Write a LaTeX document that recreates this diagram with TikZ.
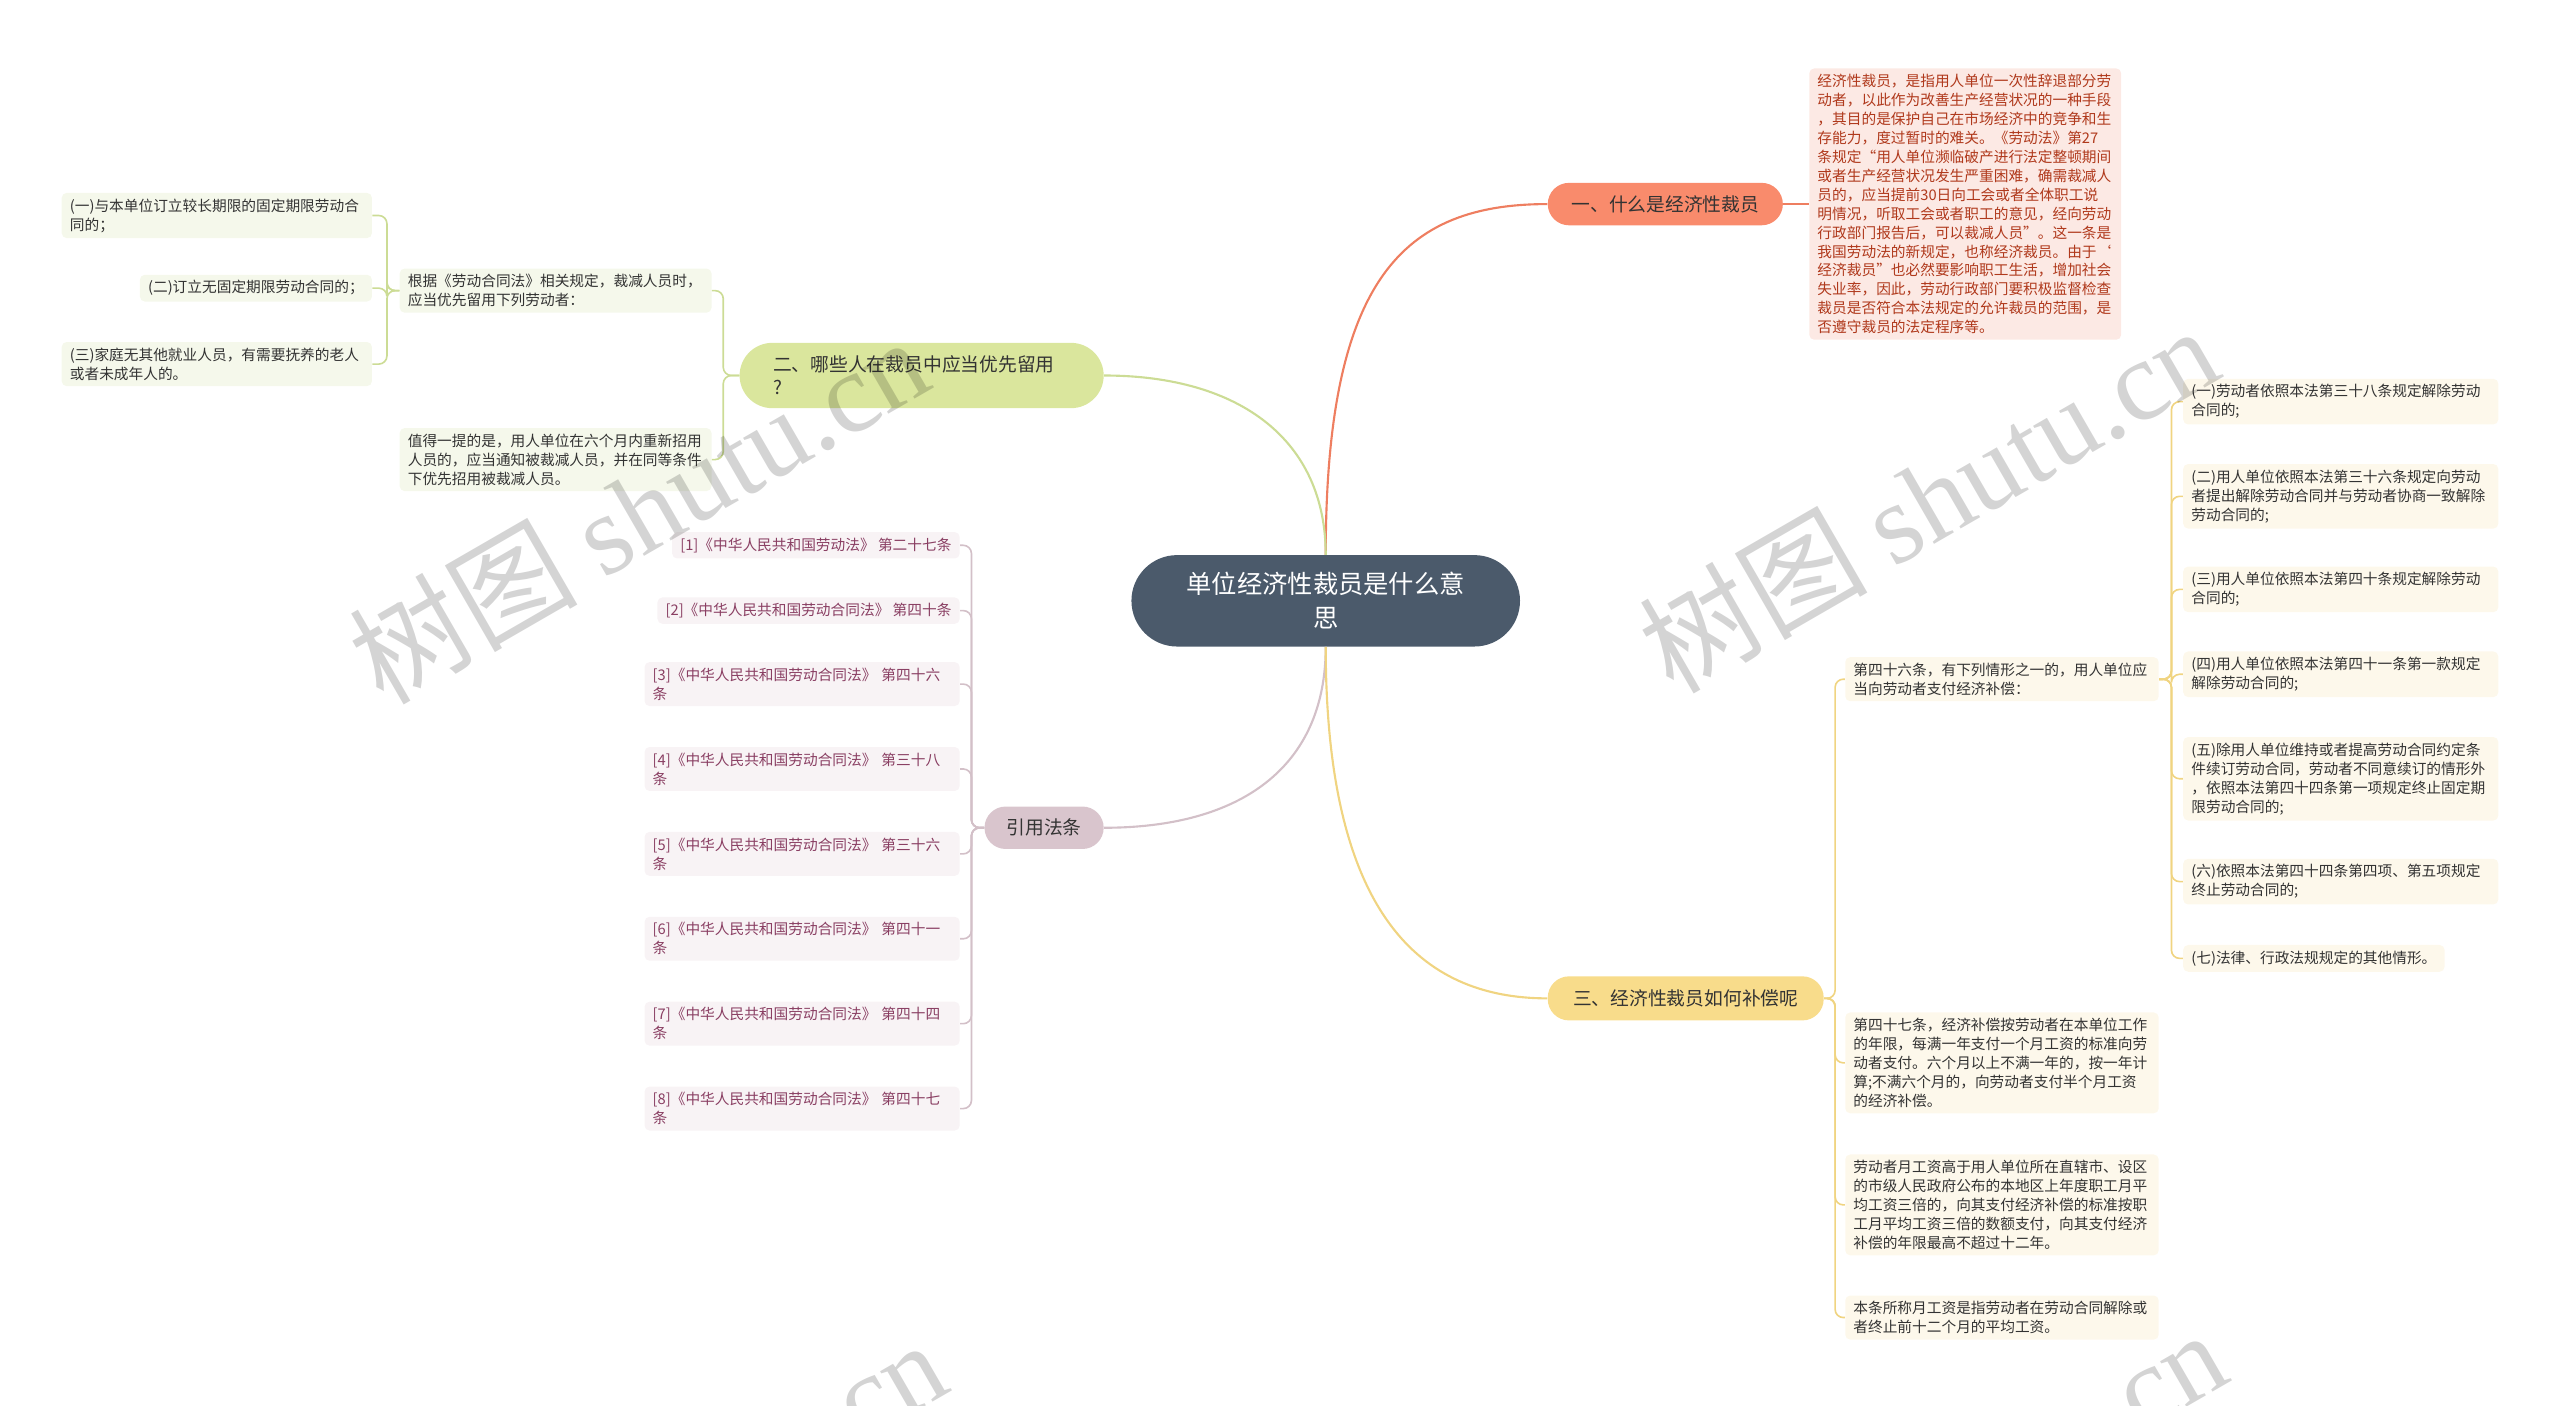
\documentclass[tikz,border=0pt]{standalone}
\usepackage{fontspec}
\usepackage{tikz}
\setmainfont{Noto Sans CJK SC}
\newfontfamily\wmserif{Liberation Serif}
\usetikzlibrary{positioning}

\definecolor{rootfill}{HTML}{4B5A6B}
\definecolor{textgray}{HTML}{333333}
\definecolor{orgfill}{HTML}{F98B6C}
\definecolor{orgline}{HTML}{EE7E60}
\definecolor{redbg}{HTML}{FCE9E4}
\definecolor{redtxt}{HTML}{B0391C}
\definecolor{grnfill}{HTML}{DAE69D}
\definecolor{grnline}{HTML}{CCDC95}
\definecolor{grnbg}{HTML}{F5F8EB}
\definecolor{purfill}{HTML}{D9C5CD}
\definecolor{purline}{HTML}{D3C0C8}
\definecolor{purbg}{HTML}{F8F3F5}
\definecolor{purtxt}{HTML}{8A3F63}
\definecolor{yelfill}{HTML}{F8DC8B}
\definecolor{yelline}{HTML}{F0D481}
\definecolor{yelbg}{HTML}{FDF8EB}

\begin{document}
\begin{tikzpicture}[x=1pt,y=-1pt,
  leaf/.style={font=\fontsize{9}{11.6}\selectfont,rounded corners=3pt,inner xsep=5pt,inner ysep=3.5pt,align=left,text=textgray},
  pill/.style={rounded corners=13pt,minimum height=26pt,inner sep=0pt,font=\fontsize{11.5}{14}\selectfont,text=textgray},
  link/.style={line width=1.3pt},
  fork/.style={line width=1pt,rounded corners=5pt},
  wmark/.style={rotate=30,text=black,text opacity=0.17,font=\fontsize{70}{74}\selectfont}]
  \clip (0,0) rectangle (1568,861);
  \useasboundingbox (0,0) rectangle (1568,861);

  % root
  \node[fill=rootfill,text=white,rounded corners=28pt,minimum width=238pt,minimum height=56pt,
    align=center,font=\fontsize{15.5}{21}\selectfont] (root) at (812,368) {单位经济性裁员是什么意\\思};

  % branch one
  \node[pill,fill=orgfill,minimum width=144pt] (b1) at (1020,125) {一、什么是经济性裁员};
  \node[leaf,fill=redbg,text=redtxt,text width=181pt,anchor=west] (b1t) at (1108,125)
    {经济性裁员，是指用人单位一次性辞退部分劳\\动者，以此作为改善生产经营状况的一种手段\\，其目的是保护自己在市场经济中的竞争和生\\存能力，度过暂时的难关。《劳动法》第27\\条规定“用人单位濒临破产进行法定整顿期间\\或者生产经营状况发生严重困难，确需裁减人\\员的，应当提前30日向工会或者全体职工说\\明情况，听取工会或者职工的意见，经向劳动\\行政部门报告后，可以裁减人员”。这一条是\\我国劳动法的新规定，也称经济裁员。由于‘\\经济裁员”也必然要影响职工生活，增加社会\\失业率，因此，劳动行政部门要积极监督检查\\裁员是否符合本法规定的允许裁员的范围，是\\否遵守裁员的法定程序等。};

  % branch two
  \node[pill,fill=grnfill,rounded corners=20pt,minimum width=223pt,minimum height=40pt,
    inner xsep=20.5pt,text width=182pt,align=left,font=\fontsize{11.5}{14}\selectfont] (b2) at (564.5,230)
    {二、哪些人在裁员中应当优先留用\\?};
  \node[leaf,fill=grnbg,text width=181pt,anchor=east] (g1) at (436,178)
    {根据《劳动合同法》相关规定，裁减人员时，\\应当优先留用下列劳动者：};
  \node[leaf,fill=grnbg,text width=181pt,anchor=east] (g2) at (436,281.5)
    {值得一提的是，用人单位在六个月内重新招用\\人员的，应当通知被裁减人员，并在同等条件\\下优先招用被裁减人员。};
  \node[leaf,fill=grnbg,text width=180pt,anchor=east] (g1a) at (228,132)
    {(一)与本单位订立较长期限的固定期限劳动合\\同的；};
  \node[leaf,fill=grnbg,anchor=east] (g1b) at (228,176.5) {(二)订立无固定期限劳动合同的；};
  \node[leaf,fill=grnbg,text width=180pt,anchor=east] (g1c) at (228,223)
    {(三)家庭无其他就业人员，有需要抚养的老人\\或者未成年人的。};

  % branch cited laws
  \node[pill,fill=purfill,minimum width=73pt] (b3) at (639.5,507) {引用法条};
  \node[leaf,fill=purbg,text=purtxt,anchor=east] (c1) at (588,334) {[1]《中华人民共和国劳动法》 第二十七条};
  \node[leaf,fill=purbg,text=purtxt,anchor=east] (c2) at (588,374) {[2]《中华人民共和国劳动合同法》 第四十条};
  \node[leaf,fill=purbg,text=purtxt,text width=183pt,anchor=east] (c3) at (588,419) {[3]《中华人民共和国劳动合同法》 第四十六\\条};
  \node[leaf,fill=purbg,text=purtxt,text width=183pt,anchor=east] (c4) at (588,471) {[4]《中华人民共和国劳动合同法》 第三十八\\条};
  \node[leaf,fill=purbg,text=purtxt,text width=183pt,anchor=east] (c5) at (588,523) {[5]《中华人民共和国劳动合同法》 第三十六\\条};
  \node[leaf,fill=purbg,text=purtxt,text width=183pt,anchor=east] (c6) at (588,575) {[6]《中华人民共和国劳动合同法》 第四十一\\条};
  \node[leaf,fill=purbg,text=purtxt,text width=183pt,anchor=east] (c7) at (588,627) {[7]《中华人民共和国劳动合同法》 第四十四\\条};
  \node[leaf,fill=purbg,text=purtxt,text width=183pt,anchor=east] (c8) at (588,679) {[8]《中华人民共和国劳动合同法》 第四十七\\条};

  % branch three
  \node[pill,fill=yelfill,minimum width=169pt,minimum height=27pt] (b4) at (1032.5,611.5) {三、经济性裁员如何补偿呢};
  \node[leaf,fill=yelbg,text width=182pt,anchor=west] (y1) at (1130,416)
    {第四十六条，有下列情形之一的，用人单位应\\当向劳动者支付经济补偿：};
  \node[leaf,fill=yelbg,text width=182pt,anchor=west] (y2) at (1130,651)
    {第四十七条，经济补偿按劳动者在本单位工作\\的年限，每满一年支付一个月工资的标准向劳\\动者支付。六个月以上不满一年的，按一年计\\算;不满六个月的，向劳动者支付半个月工资\\的经济补偿。};
  \node[leaf,fill=yelbg,text width=182pt,anchor=west] (y3) at (1130,738)
    {劳动者月工资高于用人单位所在直辖市、设区\\的市级人民政府公布的本地区上年度职工月平\\均工资三倍的，向其支付经济补偿的标准按职\\工月平均工资三倍的数额支付，向其支付经济\\补偿的年限最高不超过十二年。};
  \node[leaf,fill=yelbg,text width=182pt,anchor=west] (y4) at (1130,807)
    {本条所称月工资是指劳动者在劳动合同解除或\\者终止前十二个月的平均工资。};
  \node[leaf,fill=yelbg,text width=183pt,anchor=west] (y1a) at (1337,246)
    {(一)劳动者依照本法第三十八条规定解除劳动\\合同的;};
  \node[leaf,fill=yelbg,text width=183pt,anchor=west] (y1b) at (1337,304)
    {(二)用人单位依照本法第三十六条规定向劳动\\者提出解除劳动合同并与劳动者协商一致解除\\劳动合同的;};
  \node[leaf,fill=yelbg,text width=183pt,anchor=west] (y1c) at (1337,361)
    {(三)用人单位依照本法第四十条规定解除劳动\\合同的;};
  \node[leaf,fill=yelbg,text width=183pt,anchor=west] (y1d) at (1337,413)
    {(四)用人单位依照本法第四十一条第一款规定\\解除劳动合同的;};
  \node[leaf,fill=yelbg,text width=183pt,anchor=west] (y1e) at (1337,477)
    {(五)除用人单位维持或者提高劳动合同约定条\\件续订劳动合同，劳动者不同意续订的情形外\\，依照本法第四十四条第一项规定终止固定期\\限劳动合同的;};
  \node[leaf,fill=yelbg,text width=183pt,anchor=west] (y1f) at (1337,540)
    {(六)依照本法第四十四条第四项、第五项规定\\终止劳动合同的;};
  \node[leaf,fill=yelbg,anchor=west] (y1g) at (1337,587) {(七)法律、行政法规规定的其他情形。};

  % main curves
  \draw[link,orgline] (root.north) .. controls (812,170) and (860,125) .. (b1.west);
  \draw[link,orgline] (b1.east) -- (b1t.west);
  \draw[link,grnline] (root.north) .. controls (812,270) and (760,230) .. (b2.east);
  \draw[link,purline] (root.south) .. controls (812,470) and (760,507) .. (b3.east);
  \draw[link,yelline] (root.south) .. controls (812,560) and (870,611.5) .. (b4.west);

  % forks
  \draw[fork,grnline] (b2.west) -- (443,230) |- (g1.east);
  \draw[fork,grnline] (b2.west) -- (443,230) |- (g2.east);
  \draw[fork,grnline] (g1.west) -- (237,178) |- (g1a.east);
  \draw[fork,grnline] (g1.west) -- (237,178) |- (g1b.east);
  \draw[fork,grnline] (g1.west) -- (237,178) |- (g1c.east);

  \draw[fork,purline] (b3.west) -- (595,507) |- (c1.east);
  \draw[fork,purline] (b3.west) -- (595,507) |- (c2.east);
  \draw[fork,purline] (b3.west) -- (595,507) |- (c3.east);
  \draw[fork,purline] (b3.west) -- (595,507) |- (c4.east);
  \draw[fork,purline] (b3.west) -- (595,507) |- (c5.east);
  \draw[fork,purline] (b3.west) -- (595,507) |- (c6.east);
  \draw[fork,purline] (b3.west) -- (595,507) |- (c7.east);
  \draw[fork,purline] (b3.west) -- (595,507) |- (c8.east);

  \draw[fork,yelline] (b4.east) -- (1124,611.5) |- (y1.west);
  \draw[fork,yelline] (b4.east) -- (1124,611.5) |- (y2.west);
  \draw[fork,yelline] (b4.east) -- (1124,611.5) |- (y3.west);
  \draw[fork,yelline] (b4.east) -- (1124,611.5) |- (y4.west);
  \draw[fork,yelline] (y1.east) -- (1330,416) |- (y1a.west);
  \draw[fork,yelline] (y1.east) -- (1330,416) |- (y1b.west);
  \draw[fork,yelline] (y1.east) -- (1330,416) |- (y1c.west);
  \draw[fork,yelline] (y1.east) -- (1330,416) |- (y1d.west);
  \draw[fork,yelline] (y1.east) -- (1330,416) |- (y1e.west);
  \draw[fork,yelline] (y1.east) -- (1330,416) |- (y1f.west);
  \draw[fork,yelline] (y1.east) -- (1330,416) |- (y1g.west);

  % watermark
  \node[wmark] (wm1) at (391,312) {树图 {\wmserif shutu.cn}};
  \node[wmark] (wm2) at (1181,305) {树图 {\wmserif shutu.cn}};
  \node[wmark] (wm3) at (402,926) {树图 {\wmserif shutu.cn}};
  \node[wmark] (wm4) at (1186,920) {树图 {\wmserif shutu.cn}};
\end{tikzpicture}
\end{document}
